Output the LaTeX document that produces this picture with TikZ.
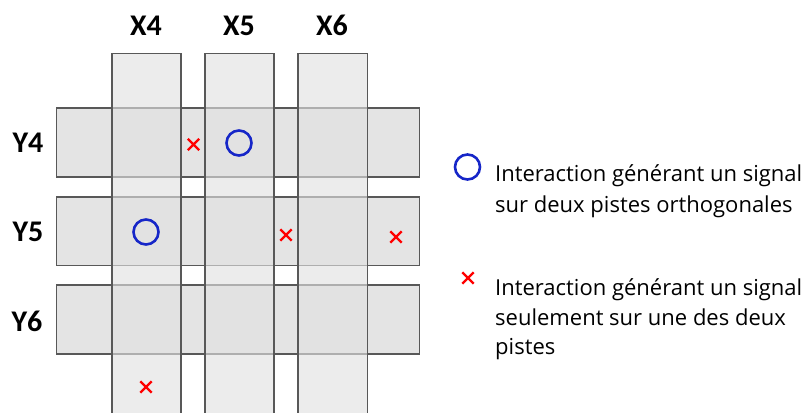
\documentclass[tikz,border=0pt]{standalone}
\usepackage{fontspec}
\setmainfont{Carlito}
\newfontfamily\legendfont{Open Sans}
\usetikzlibrary{shapes.misc}
\definecolor{hfill}{RGB}{228,228,228}
\definecolor{vfill}{RGB}{225,225,225}
\definecolor{edge}{RGB}{88,88,88}
\definecolor{hitblue}{RGB}{22,38,200}
\definecolor{hitred}{RGB}{255,0,0}
\begin{document}
\begin{tikzpicture}[x=1pt,y=-1pt,
  hstrip/.style={draw=edge,fill=hfill,line width=1.2pt},
  vstrip/.style={draw=edge,fill=vfill,fill opacity=0.63,line width=1.2pt},
  axislabel/.style={font=\fontsize{30}{30}\selectfont\bfseries,inner sep=0pt,anchor=base},
  both/.style={circle,draw=hitblue,line width=2.6pt,minimum size=25pt,inner sep=0pt},
  single/.style={cross out,draw=hitred,line width=2.4pt,minimum size=9pt,inner sep=0pt},
  legendtext/.style={align=left,anchor=north west,inner sep=0pt}]
\useasboundingbox (0,0) rectangle (810,412);
% horizontal strips
\path[hstrip] (56.5,108) rectangle (419.5,177);
\path[hstrip] (56.5,197) rectangle (419.5,265.5);
\path[hstrip] (56.5,285) rectangle (419.5,354);
% vertical strips
\path[vstrip] (112,53.5) rectangle (181,415);
\path[vstrip] (205,53.5) rectangle (274,415);
\path[vstrip] (298,53.5) rectangle (367.5,415);
% labels
\node[axislabel] (x4) at (146,36) {X4};
\node[axislabel] (x5) at (239,36) {X5};
\node[axislabel] (x6) at (332,36) {X6};
\node[axislabel] (y4) at (28,152) {Y4};
\node[axislabel] (y5) at (28,241) {Y5};
\node[axislabel] (y6) at (27,331) {Y6};
% hits
\node[both] (c1) at (239,143) {};
\node[both] (c2) at (146,232) {};
\node[single] (r1) at (193.5,144.5) {};
\node[single] (r2) at (286,235) {};
\node[single] (r3) at (396,237) {};
\node[single] (r4) at (146,387) {};
% legend
\node[both] (lc) at (467.5,167) {};
\node[single] (lx) at (468,278) {};
\node[legendtext,font=\legendfont\fontsize{22}{31}\selectfont] (lt1) at (495,164) {Interaction générant un signal\\sur deux pistes orthogonales};
\node[legendtext,font=\legendfont\fontsize{22}{29.7}\selectfont] (lt2) at (495,278.3) {Interaction générant un signal\\seulement sur une des deux\\pistes};
\end{tikzpicture}
\end{document}
